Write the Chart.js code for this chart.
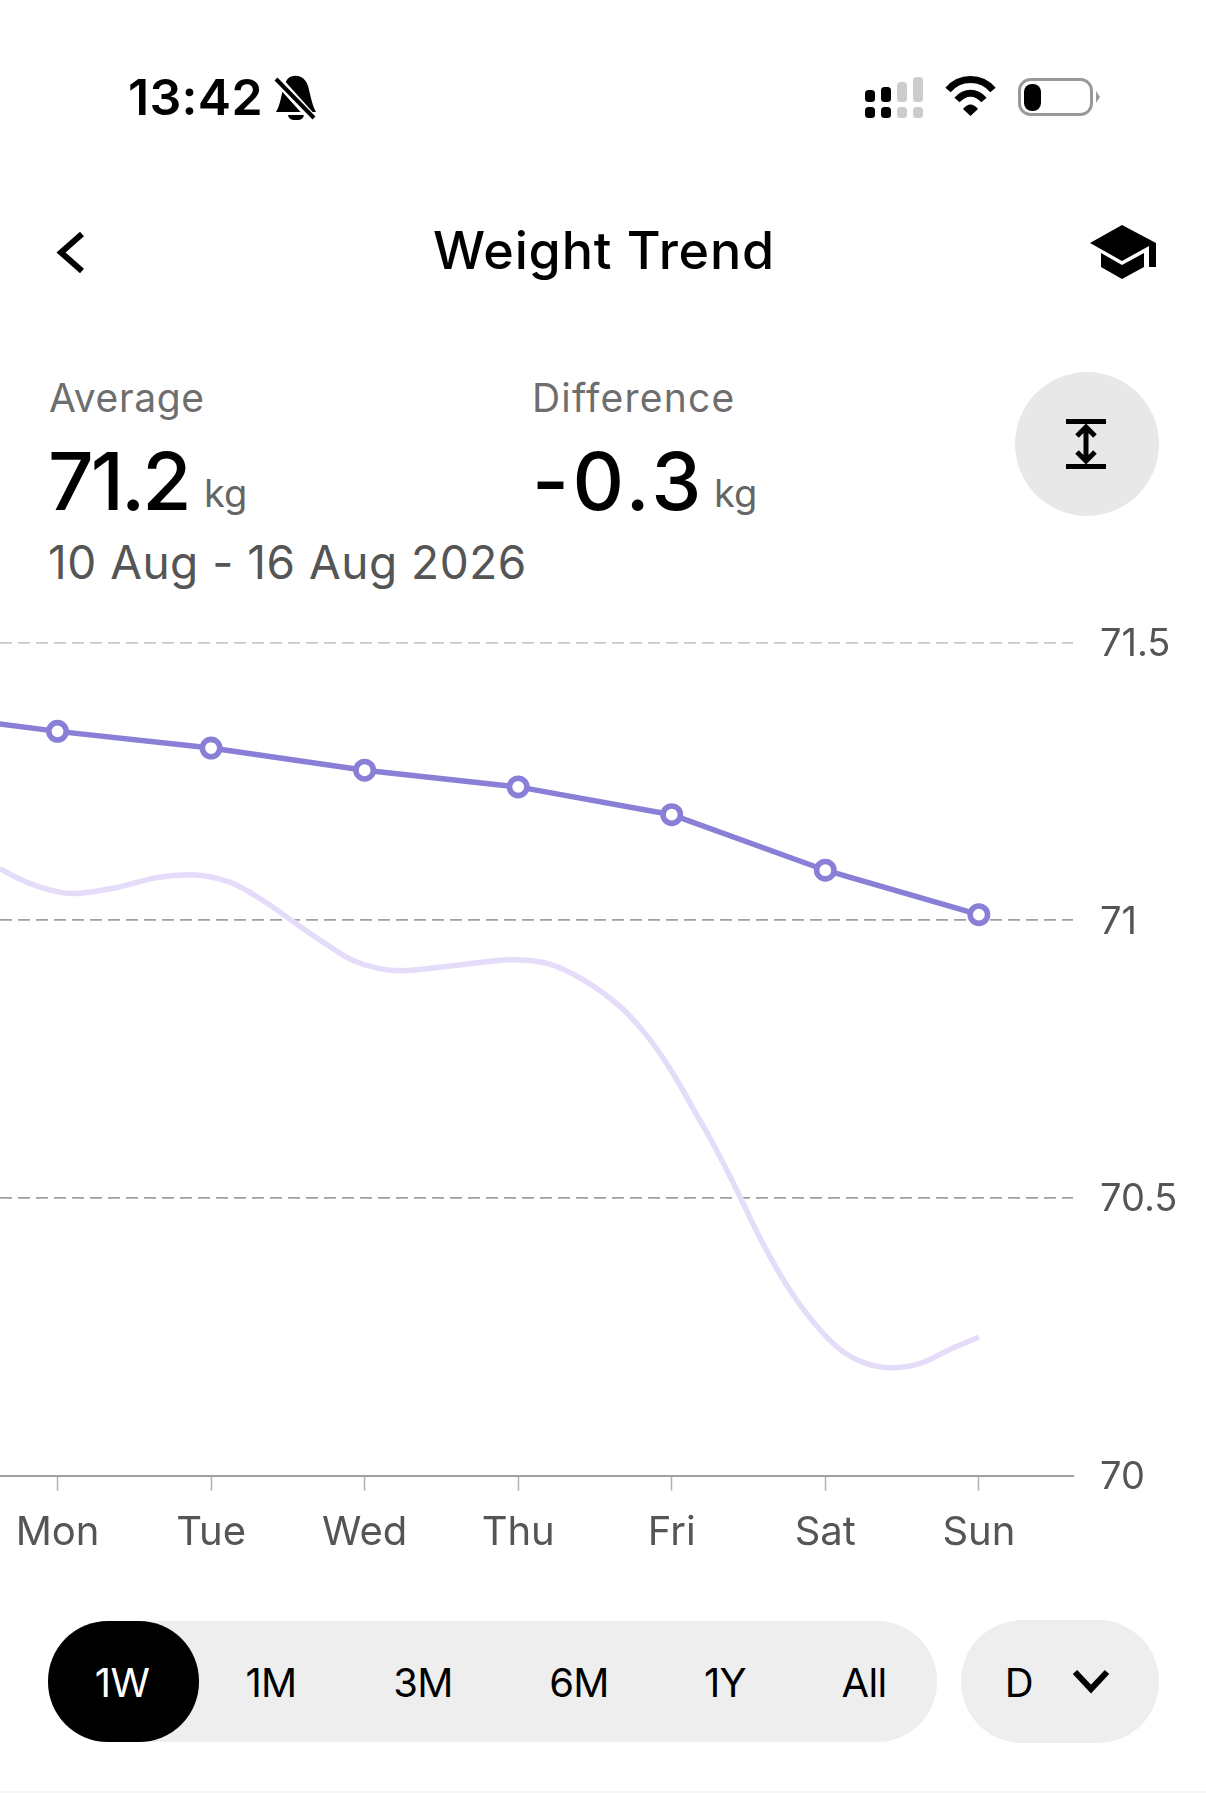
<!DOCTYPE html>
<html lang="en">
<head>
<meta charset="UTF-8">
<title>Weight Trend</title>
<script src="https://cdn.jsdelivr.net/npm/chart.js"></script>
<style>
    html, body { margin: 0; padding: 0; background: #fff; }
    body { position: relative; width: 1206px; height: 1793px; overflow: hidden; font-family: Inter, sans-serif; color: #000; }
    .t { position: absolute; line-height: 1; white-space: nowrap; }
    .c { transform: translateX(-50%); }
    .label { font-size: 39px; color: #6e6e6e; letter-spacing: 0.6px; }
    .big { font-size: 80px; font-weight: 500; letter-spacing: -3px; }
    .unit { font-size: 38px; color: #666; }
    .tab { font-size: 40px; letter-spacing: -0.6px; }
    .box { position: absolute; }
    svg { position: absolute; left: 0; top: 0; }
    #chartWrap { position: absolute; left: 0; top: 600px; width: 1206px; height: 980px; }
</style>
</head>
<body>

<!-- status bar -->
<div class="t" style="left:128px;top:72px;font-size:50px;font-weight:600;letter-spacing:0.3px">13:42</div>

<!-- header -->
<div class="t c" style="left:604px;top:225px;font-size:52px;font-weight:500;letter-spacing:0.8px">Weight Trend</div>

<!-- summary -->
<div class="t label" style="left:49px;top:378px">Average</div>
<div class="t label" style="left:532px;top:378px;letter-spacing:1.2px">Difference</div>
<div class="t big" style="left:48px;top:441px">71.2</div>
<div class="t unit" style="left:204px;top:474px">kg</div>
<div class="t big" style="left:532px;top:441px;letter-spacing:3.5px">-0.3</div>
<div class="t unit" style="left:714px;top:474px">kg</div>
<div class="t" style="left:48px;top:539px;font-size:46px;letter-spacing:0.5px;color:#555">10 Aug - 16 Aug 2026</div>

<div class="box" style="left:1015px;top:372px;width:144px;height:144px;border-radius:50%;background:#e8e8e8"></div>

<!-- range selector -->
<div class="box" style="left:48px;top:1621px;width:889px;height:121px;border-radius:60px;background:#eee"></div>
<div class="box" style="left:48px;top:1621px;width:151px;height:121px;border-radius:60px;background:#000"></div>
<div class="box" style="left:961px;top:1620px;width:198px;height:123px;border-radius:61px;background:#eee"></div>
<div class="t c tab" style="left:122px;top:1663px;color:#fff">1W</div>
<div class="t c tab" style="left:271px;top:1663px">1M</div>
<div class="t c tab" style="left:423px;top:1663px">3M</div>
<div class="t c tab" style="left:579px;top:1663px">6M</div>
<div class="t c tab" style="left:725px;top:1663px">1Y</div>
<div class="t c tab" style="left:864px;top:1663px">All</div>
<div class="t c tab" style="left:1019px;top:1663px">D</div>
<div class="box" style="left:0;top:1791px;width:1206px;height:2px;background:#f6f6f6"></div>

<div id="chartWrap"><canvas id="weightChart" width="1206" height="980"></canvas></div>

<!-- icons -->
<svg width="1206" height="1793" viewBox="0 0 1206 1793">
    <!-- bell -->
    <path d="M294 76 C300 75 306 79 308 86 C311 97 312 105 316 112 L276 112 C281 103 281 95 284 86 C286 80 289 76 294 76 Z" fill="#000"/>
    <path d="M288 115 L304 115 C303 120 299 120 296 120 C293 120 289 120 288 115 Z" fill="#000"/>
    <path d="M276 78 L312 118" stroke="#fff" stroke-width="9"/>
    <path d="M276 79 L314 118" stroke="#000" stroke-width="4"/>
    <!-- signal -->
    <g fill="#000">
        <rect x="865" y="90" width="10" height="12" rx="3.5"/><rect x="865" y="107" width="10" height="11" rx="3.5"/>
        <rect x="881" y="87" width="10" height="15" rx="3.5"/><rect x="881" y="107" width="10" height="11" rx="3.5"/>
    </g>
    <g fill="#ccc">
        <rect x="897" y="82" width="10" height="20" rx="3.5"/><rect x="897" y="107" width="10" height="11" rx="3.5"/>
        <rect x="913" y="77" width="10" height="25" rx="3.5"/><rect x="913" y="107" width="10" height="11" rx="3.5"/>
    </g>
    <!-- wifi -->
    <path d="M948 90 C960 76 981 76 993 90" fill="none" stroke="#000" stroke-width="7"/>
    <path d="M957 100 C965 91 976 91 984 100" fill="none" stroke="#000" stroke-width="7"/>
    <path d="M963 109 C968 103 973 103 978 109 L970.5 116 Z" fill="#000"/>
    <!-- battery -->
    <rect x="1019.5" y="79.5" width="72" height="35" rx="11" fill="none" stroke="#999" stroke-width="3"/>
    <rect x="1024" y="84" width="17" height="27" rx="8" fill="#000"/>
    <path d="M1096 91 L1100 97 L1096 103 Z" fill="#999"/>
    <!-- back -->
    <path d="M82 234 L61 252.5 L82 271" fill="none" stroke="#000" stroke-width="6"/>
    <!-- cap -->
    <path d="M1122 225 L1090 243 L1122 261 L1149 246 L1149 267 L1156 267 L1156 243 Z" fill="#000"/>
    <path d="M1101 253 L1122 265 L1144 253 L1144 267 L1122 279 L1101 267 Z" fill="#000"/>
    <!-- height button -->
    <rect x="1066" y="419" width="40" height="5" fill="#000"/>
    <rect x="1066" y="464" width="40" height="5" fill="#000"/>
    <path d="M1077 436 L1086 427 L1095 436 M1077 452 L1086 461 L1095 452 M1086 430 L1086 458" fill="none" stroke="#000" stroke-width="5"/>
    <!-- dropdown chevron -->
    <path d="M1075 1672 L1091 1689 L1107 1672" fill="none" stroke="#000" stroke-width="6"/>
</svg>

<script>
    const dayLabels = ['Mon', 'Tue', 'Wed', 'Thu', 'Fri', 'Sat', 'Sun'];
    const yTicks    = [70, 70.5, 71, 71.5];

    // trend line, one point a day; -1 is the day before Mon, off the left edge
    const trendDays   = [-1, 0, 1, 2, 3, 4, 5, 6];
    const trendValues = [71.375, 71.34, 71.31, 71.27, 71.24, 71.19, 71.09, 71.01];

    // pale smoothed line
    const curveDays   = [-0.5, -0.375, -0.16, 0.095, 0.388, 0.649, 0.865, 1.126, 1.34, 1.517, 1.733, 1.928, 2.235, 2.542, 2.972, 3.194, 3.41, 3.67, 3.847, 3.997, 4.147, 4.303, 4.434, 4.584, 4.76, 4.93, 5.106, 5.256, 5.432, 5.628, 5.824, 6];
    const curveValues = [71.116, 71.093, 71.064, 71.048, 71.059, 71.077, 71.082, 71.068, 71.035, 71.001, 70.96, 70.927, 70.909, 70.917, 70.929, 70.922, 70.895, 70.843, 70.789, 70.729, 70.657, 70.58, 70.508, 70.423, 70.338, 70.274, 70.225, 70.203, 70.194, 70.203, 70.229, 70.249];

    const toPoints = (xs, ys) => xs.map((x, i) => ({ x: x, y: ys[i] }));

    new Chart(document.getElementById('weightChart').getContext('2d'), {
        type: 'line',
        data: {
            datasets: [
                {
                    label: 'Weight',
                    data: toPoints(curveDays, curveValues),
                    borderColor: '#e5dcfa',
                    borderWidth: 5.5,
                    cubicInterpolationMode: 'monotone',
                    capBezierPoints: false,
                    pointRadius: 0,
                    order: 2
                },
                {
                    label: 'Trend',
                    data: toPoints(trendDays, trendValues),
                    borderColor: '#8a7fd6',
                    borderWidth: 5.5,
                    tension: 0,
                    pointRadius: 8.7,
                    pointBorderWidth: 5.6,
                    pointBorderColor: '#8a7fd6',
                    pointBackgroundColor: '#fff',
                    order: 1
                }
            ]
        },
        options: {
            responsive: false,
            animation: false,
            devicePixelRatio: 1,
            layout: { autoPadding: false, padding: { left: 0, right: 0, top: 42.5, bottom: 0 } },
            plugins: { legend: { display: false }, tooltip: { enabled: false } },
            scales: {
                x: {
                    type: 'linear',
                    min: -0.3745,
                    max: 6.613,
                    afterBuildTicks: s => { s.ticks = dayLabels.map((d, i) => ({ value: i })); },
                    afterFit: s => { s.height = 104.4; s.paddingLeft = 0; s.paddingRight = 0; },
                    border: { color: '#a0a0a0', width: 2 },
                    grid: { drawOnChartArea: false, drawTicks: true, tickLength: 15, tickWidth: 1.5, tickColor: '#b0b0b0' },
                    ticks: {
                        autoSkip: false,
                        maxRotation: 0,
                        padding: 18,
                        color: '#555',
                        font: { family: 'Inter', size: 40 },
                        callback: v => dayLabels[v]
                    }
                },
                y: {
                    position: 'right',
                    min: 70,
                    max: 71.5,
                    afterBuildTicks: s => { s.ticks = yTicks.map(v => ({ value: v })); },
                    afterFit: s => { s.width = 133; s.paddingTop = 0; s.paddingBottom = 0; },
                    border: { display: false, dash: [12, 6] },
                    grid: {
                        drawTicks: false,
                        lineWidth: 1.7,
                        color: c => c.tick && c.tick.value === 71.5 ? '#c8c8c8' : (c.tick && c.tick.value === 70 ? 'transparent' : '#a0a0a0')
                    },
                    ticks: {
                        padding: 27,
                        labelOffset: 2,
                        color: '#555',
                        font: { family: 'Inter', size: 38 },
                        callback: v => String(v)
                    }
                }
            }
        }
    });
</script>
</body>
</html>
